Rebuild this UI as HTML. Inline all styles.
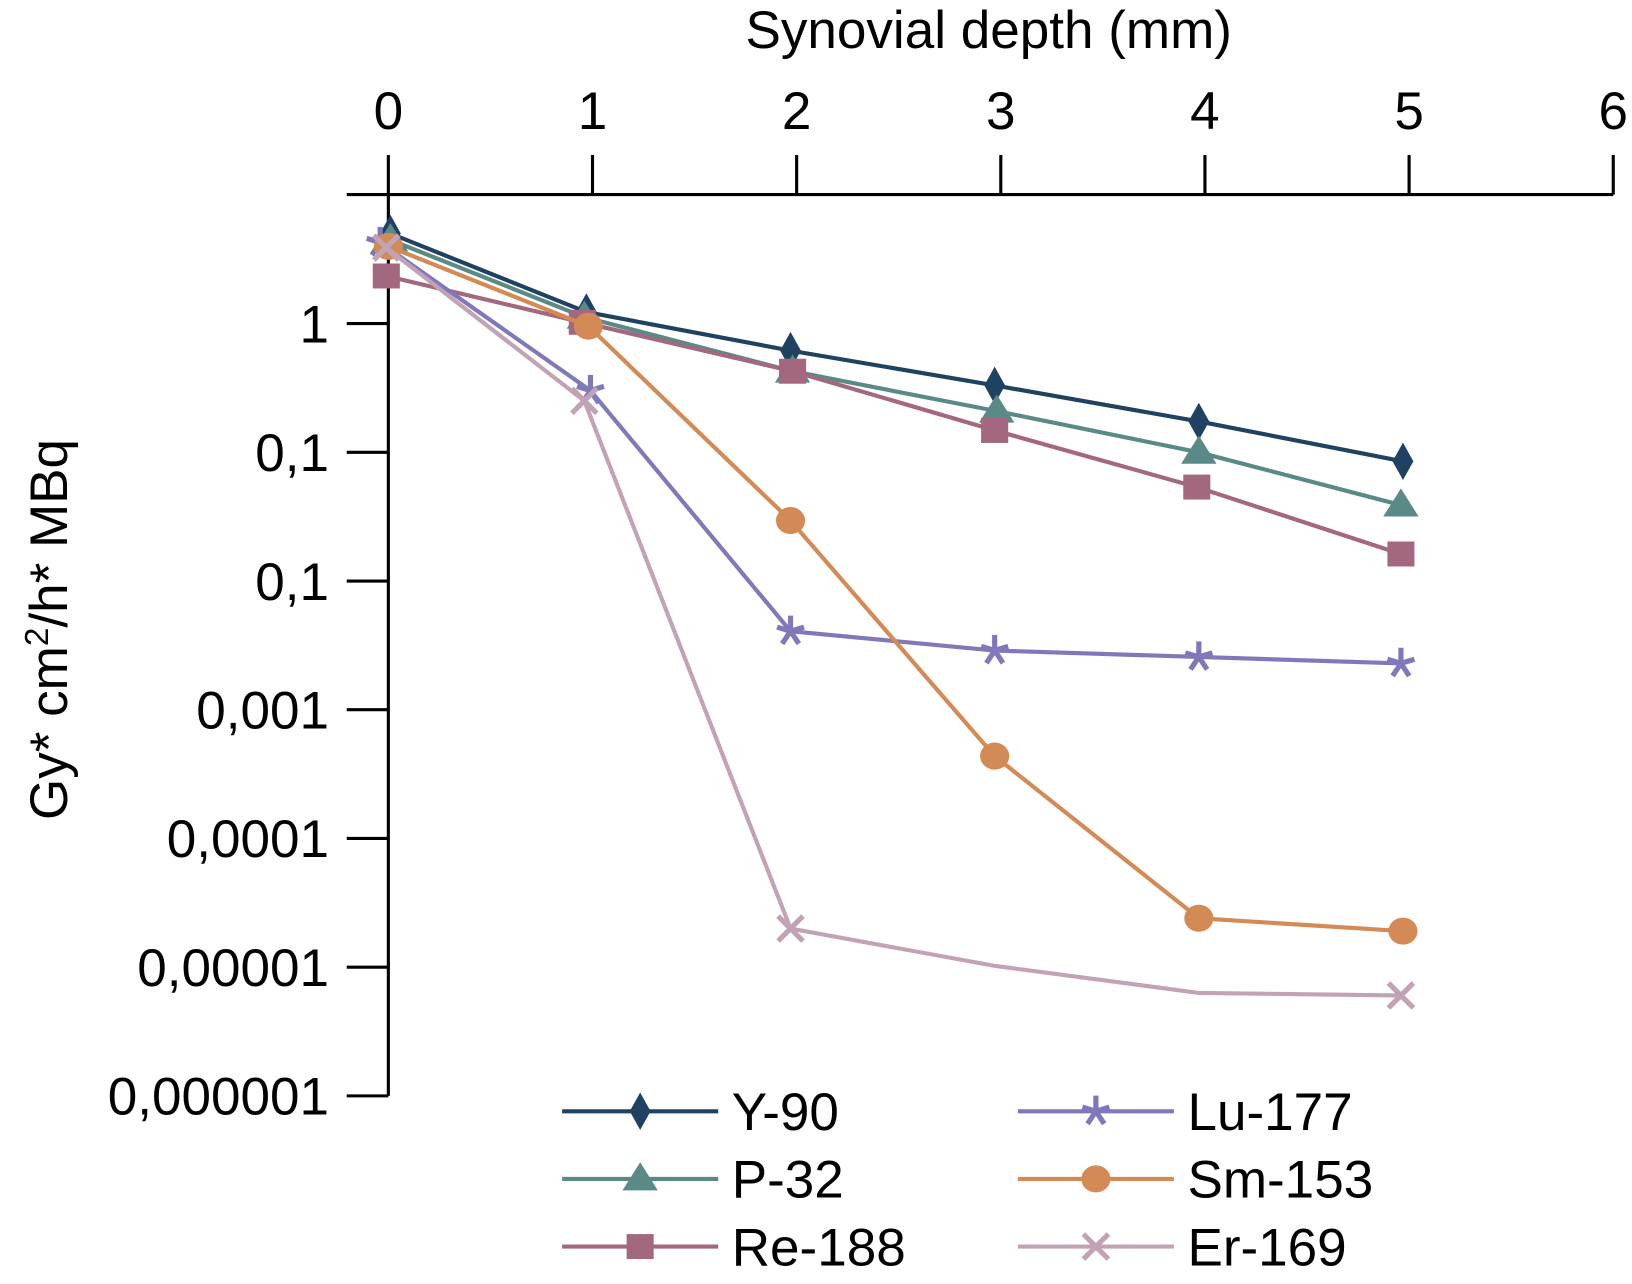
<!DOCTYPE html>
<html><head><meta charset="utf-8"><style>
html,body{margin:0;padding:0;background:#fff;}
svg{display:block;font-family:"Liberation Sans",sans-serif;}
</style></head><body>
<svg id="chart" width="1632" height="1284" viewBox="0 0 1568 1234" xmlns="http://www.w3.org/2000/svg">
<text x="950" y="46" font-size="51" text-anchor="middle">Synovial depth (mm)</text>
<text transform="translate(64,605) rotate(-90)" font-size="51" text-anchor="middle">Gy* cm<tspan font-size="32" dy="-18">2</tspan><tspan dy="18">/h* MBq</tspan></text>
<g id="axes"></g>
<g id="series"></g>
<g id="legend"></g>
</svg>
<script>
const xTicks=[0,1,2,3,4,5,6];
const yTickExp=[0,-1,-2,-3,-4,-5,-6];
const yTickLabels=["1","0,1","0,1","0,001","0,0001","0,00001","0,000001"];
const seriesNames=["Y-90","P-32","Re-188","Lu-177","Sm-153","Er-169"];
const xY90=[0.01,0.97,1.97,2.97,3.97,4.97];
const vY90=[0.70,0.09,-0.21,-0.48,-0.76,-1.07];
const xP32=[0.01,0.96,1.98,2.98,3.97,4.96];
const vP32=[0.65,0.05,-0.37,-0.68,-1.0,-1.41];
const xRe188=[-0.01,0.95,1.98,2.97,3.96,4.96];
const vRe188=[0.37,0.01,-0.37,-0.83,-1.27,-1.79];
const xLu177=[-0.04,0.99,1.97,2.97,3.97,4.96];
const vLu177=[0.63,-0.52,-2.39,-2.54,-2.59,-2.64];
const xSm153=[0.0,0.98,1.97,2.97,3.97,4.97];
const vSm153=[0.60,-0.02,-1.53,-3.36,-4.62,-4.72];
const xEr169=[-0.01,0.96,1.97,2.97,3.97,4.96];
const vEr169=[0.59,-0.60,-4.70,-4.99,-5.20,-5.22];
const NS="http://www.w3.org/2000/svg";
const X=v=>373+v*196.2;
const Y=e=>311-e*123.7;
function mk(tag,attrs,parent){const e=document.createElementNS(NS,tag);for(const k in attrs)e.setAttribute(k,attrs[k]);parent.appendChild(e);return e;}
const axes=document.getElementById('axes');
let l=mk('line',{x1:333,y1:187,x2:X(6),y2:187,stroke:'#000','stroke-width':3},axes);


l=mk('line',{x1:373,y1:187,x2:373,y2:Y(-6),stroke:'#000','stroke-width':3},axes);


xTicks.forEach(t=>{
 const tk=mk('line',{x1:X(t),y1:149,x2:X(t),y2:187,stroke:'#000','stroke-width':3},axes);
 
 
 const tx=mk('text',{x:X(t),y:124,'font-size':51,'text-anchor':'middle'},axes);tx.textContent=t;
 
 
});
yTickExp.forEach((e,i)=>{
 const tk=mk('line',{x1:333,y1:Y(e),x2:373,y2:Y(e),stroke:'#000','stroke-width':3},axes);
 
 
 const tx=mk('text',{x:316,y:Y(e)+18,'font-size':51,'text-anchor':'end'},axes);tx.textContent=yTickLabels[i];
 
 
});
const colors=['#1f4263','#5a8a88','#a3677f','#7f79ba','#d38a55','#c2a3b6'];
const shapes=['diamond','triangle','square','star','circle','cross'];
const xs=[xY90,xP32,xRe188,xLu177,xSm153,xEr169];
const vs=[vY90,vP32,vRe188,vLu177,vSm153,vEr169];
function marker(shape,cx,cy,c,g){
 let e;
 if(shape==='diamond')e=mk('polygon',{points:`${cx},${cy-18} ${cx+10},${cy} ${cx},${cy+18} ${cx-10},${cy}`,fill:c},g);
 else if(shape==='triangle')e=mk('polygon',{points:`${cx},${cy-16} ${cx+17},${cy+11} ${cx-17},${cy+11}`,fill:c},g);
 else if(shape==='square')e=mk('rect',{x:cx-13,y:cy-12,width:26,height:24,fill:c},g);
 else if(shape==='circle')e=mk('ellipse',{cx:cx,cy:cy,rx:14,ry:13,fill:c},g);
 else if(shape==='star')e=mk('path',{d:`M${cx} ${cy-15}V${cy} M${cx-13} ${cy-4}L${cx} ${cy} L${cx+13} ${cy-4} M${cx-8} ${cy+12}L${cx} ${cy} L${cx+8} ${cy+12}`,stroke:c,'stroke-width':5,fill:'none'},g);
 else e=mk('path',{d:`M${cx-12} ${cy-12}L${cx+12} ${cy+12}M${cx+12} ${cy-12}L${cx-12} ${cy+12}`,stroke:c,'stroke-width':5,fill:'none'},g);
 return e;
}
const sg=document.getElementById('series');
seriesNames.forEach((n,si)=>{
 const g=mk('g',{},sg);
 
 
 const pts=xs[si].map((x,i)=>X(x)+','+Y(vs[si][i])).join(' ');
 const pl=mk('polyline',{points:pts,fill:'none',stroke:colors[si],'stroke-width':4},g);
 
 
 xs[si].forEach((x,i)=>{
  if(si===5&&(i===3||i===4))return;
  const m=marker(shapes[si],X(x),Y(vs[si][i]),colors[si],g);
  
  
 });
});
const lg=document.getElementById('legend');
seriesNames.forEach((n,si)=>{
 const col=si<3?0:1,row=si%3;
 const x0=col?978:540,y=1068+row*65;
 const g=mk('g',{},lg);
 
 
 mk('line',{x1:x0,y1:y,x2:x0+150,y2:y,stroke:colors[si],'stroke-width':4},g);
 marker(shapes[si],x0+75,y,colors[si],g);
 const t=mk('text',{x:x0+163,y:y+18,'font-size':51},g);t.textContent=n;
});
</script>
</body></html>
